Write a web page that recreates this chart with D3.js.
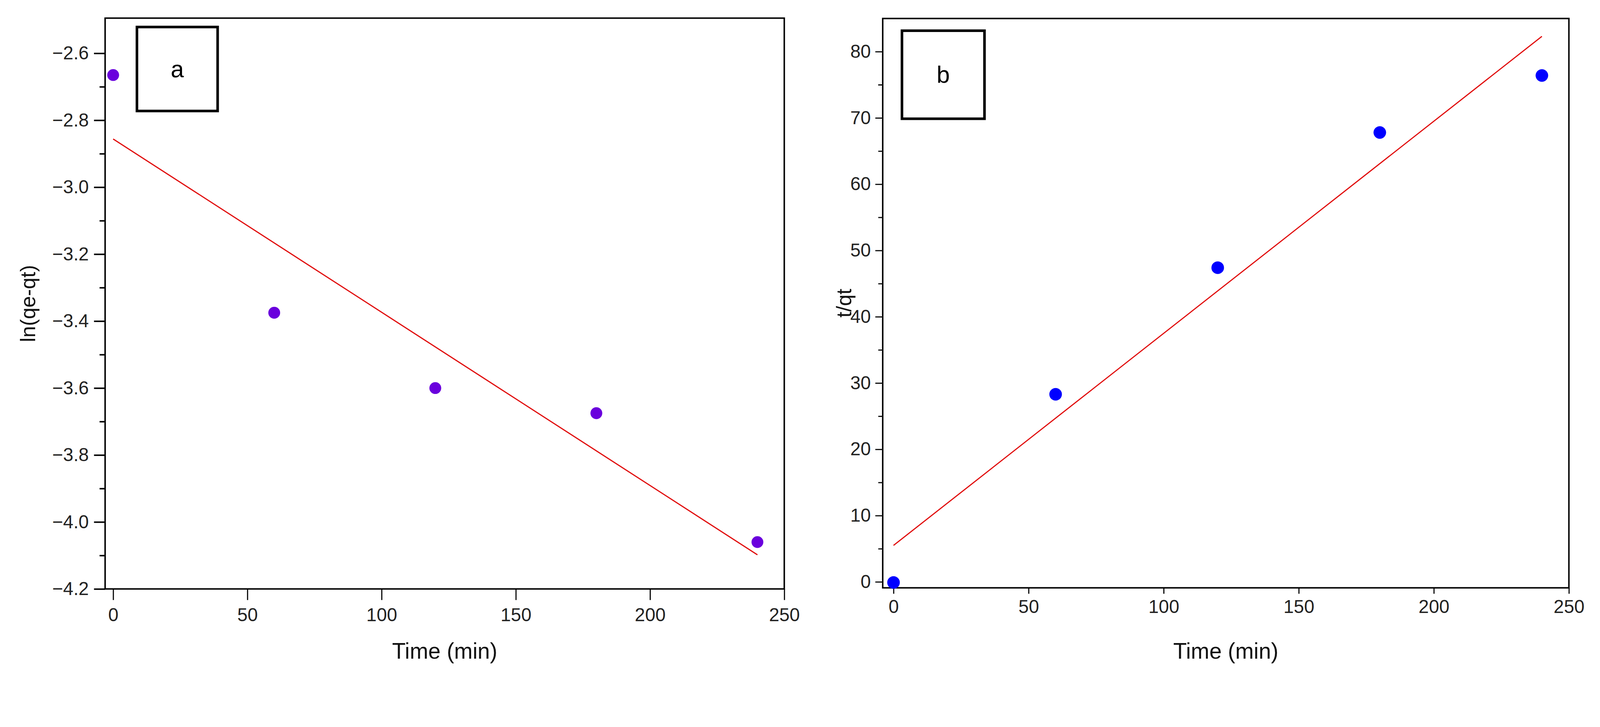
<!DOCTYPE html>
<html><head><meta charset="utf-8">
<script src="https://cdn.jsdelivr.net/npm/d3@7/dist/d3.min.js"></script>
<style>html,body{margin:0;background:#fff;overflow:hidden}svg{display:block;width:100vw;height:auto}text{font-family:"Liberation Sans",Arial,sans-serif}</style>
</head><body><svg id="c" viewBox="0 0 4323 1862" preserveAspectRatio="xMinYMin meet"></svg>
<script>
const timeA = [0, 60, 120, 180, 240];
const lnA = [-2.665, -3.375, -3.6, -3.675, -4.06];
const fitAx = [0, 240];
const fitAy = [-2.856, -4.098];
const timeB = [0, 60, 120, 180, 240];
const tqB = [-0.1, 28.3, 47.4, 67.8, 76.4];
const fitBx = [0, 240];
const fitBy = [5.5, 82.3];
const ticksX = [0, 50, 100, 150, 200, 250];
const ticksA = [-4.2, -4.0, -3.8, -3.6, -3.4, -3.2, -3.0, -2.8, -2.6];
const ticksB = [0, 10, 20, 30, 40, 50, 60, 70, 80];

const svg = d3.select("#c");
function panel(o) {
  const g = svg.append("g");
  const x = d3.scaleLinear().domain(o.xd).range([o.l, o.r]);
  const y = d3.scaleLinear().domain(o.yd).range([o.b, o.t]);
  const minors = [];
  for (let i = 0; i < o.yt.length - 1; i++) minors.push((o.yt[i] + o.yt[i + 1]) / 2);
  if (o.extraMinor) minors.push(o.extraMinor);
  g.append("g").attr("transform", `translate(${o.l},0)`)
    .call(d3.axisLeft(y).tickValues(minors).tickSize(o.minorLen).tickFormat(""))
    .call(s => { s.select(".domain").remove(); s.selectAll("line").attr("stroke-width", o.tw); });
  g.append("g").attr("transform", `translate(${o.l},0)`)
    .call(d3.axisLeft(y).tickValues(o.yt).tickSize(o.majorLen).tickPadding(o.pad).tickFormat(o.yf))
    .call(s => { s.select(".domain").remove(); s.selectAll("line").attr("stroke-width", o.tw);
      s.selectAll("text").attr("font-size", o.fs).attr("fill", "#222"); });
  g.append("g").attr("transform", `translate(0,${o.b})`)
    .call(d3.axisBottom(x).tickValues(ticksX).tickSize(o.xLen).tickPadding(o.xpad))
    .call(s => { s.select(".domain").remove(); s.selectAll("line").attr("stroke-width", o.xtw);
      s.selectAll("text").attr("font-size", o.fs).attr("fill", "#222"); });
  g.append("rect").attr("x", o.l).attr("y", o.t).attr("width", o.r - o.l).attr("height", o.b - o.t)
    .attr("fill", "none").attr("stroke", "#000").attr("stroke-width", o.fw);
  g.append("line").attr("x1", x(o.fx[0])).attr("y1", y(o.fy[0])).attr("x2", x(o.fx[1])).attr("y2", y(o.fy[1]))
    .attr("stroke", "#e00000").attr("stroke-width", 3);
  g.selectAll("circle.p").data(o.xs).enter().append("circle")
    .attr("cx", d => x(d)).attr("cy", (d, i) => y(o.ys[i])).attr("r", o.rad).attr("fill", o.col);
  g.append("rect").attr("x", o.box[0]).attr("y", o.box[1]).attr("width", o.box[2]).attr("height", o.box[3])
    .attr("fill", "#fff").attr("stroke", "#000").attr("stroke-width", 7);
  g.append("text").attr("x", o.box[0] + o.box[2] / 2).attr("y", o.box[1] + o.box[3] / 2 + 22)
    .attr("text-anchor", "middle").attr("font-size", 64).text(o.letter);
  g.append("text").attr("x", (o.l + o.r) / 2).attr("y", 1780).attr("text-anchor", "middle")
    .attr("font-size", 60).attr("fill", "#111").text("Time (min)");
  g.append("text").attr("transform", `translate(${o.ytx},${(o.t + o.b) / 2}) rotate(-90)`)
    .attr("text-anchor", "middle").attr("font-size", 56).attr("fill", "#111").text(o.ytitle);
}
panel({xd: [-3, 250], yd: [-4.2, -2.495], l: 284, r: 2119, t: 49, b: 1592, yt: ticksA,
  yf: d3.format(".1f"), minorLen: 15, majorLen: 30, tw: 4, xLen: 30, xtw: 3, pad: 14, xpad: 22, fs: 50, fw: 4,
  fx: fitAx, fy: fitAy, xs: timeA, ys: lnA, rad: 16, col: "#6a00dd", box: [370, 73, 218, 227], letter: "a",
  ytitle: "ln(qe-qt)", ytx: 95});
panel({xd: [-4, 250], yd: [-0.9, 85], l: 2385, r: 4239, t: 50, b: 1589, yt: ticksB, extraMinor: 75,
  yf: d3.format("d"), minorLen: 12, majorLen: 20, tw: 3, xLen: 16, xtw: 3, pad: 12, xpad: 16, fs: 50, fw: 4,
  fx: fitBx, fy: fitBy, xs: timeB, ys: tqB, rad: 17, col: "#0000ff", box: [2437, 83, 223, 238], letter: "b",
  ytitle: "t/qt", ytx: 2300});
</script></body></html>
